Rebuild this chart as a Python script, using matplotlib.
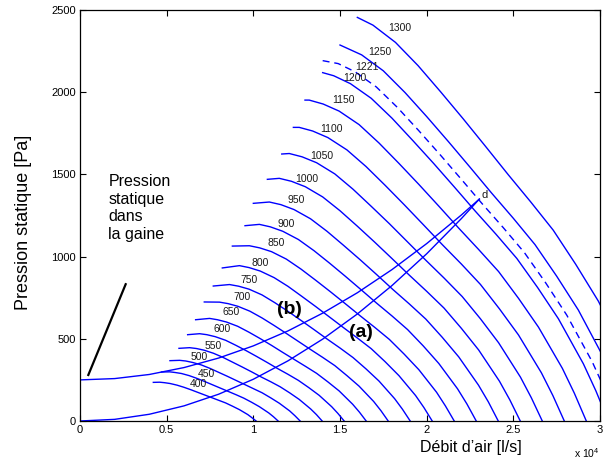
import matplotlib
matplotlib.use('Agg')
import matplotlib.pyplot as plt
from matplotlib.ticker import FuncFormatter, MultipleLocator

# fan speeds [rpm], one characteristic curve each (1221 is the dashed one)
speeds = [400, 450, 500, 550, 600, 650, 700, 750, 800, 850, 900, 950,
          1000, 1050, 1100, 1150, 1200, 1221, 1250, 1300]

# debit [l/s]
curve_flow = [
    [4230, 4600, 4880, 5200, 5600, 6000, 6400, 6800, 7200, 7600, 8000, 8400, 8800, 9200, 9680, 9920, 10160],
    [4700, 5175, 5490, 5850, 6300, 6750, 7200, 7650, 8100, 8550, 9000, 9450, 9900, 10350, 10890, 11160, 11430],
    [5190, 5750, 6100, 6500, 7000, 7500, 8000, 8500, 9000, 9500, 10000, 10500, 11000, 11500, 12100, 12400, 12700],
    [5710, 6325, 6710, 7150, 7700, 8250, 8800, 9350, 9900, 10450, 11000, 11550, 12100, 12650, 13310, 13640, 13970],
    [6210, 6900, 7320, 7800, 8400, 9000, 9600, 10200, 10800, 11400, 12000, 12600, 13200, 13800, 14520, 14880, 15240],
    [6670, 7475, 7930, 8450, 9100, 9750, 10400, 11050, 11700, 12350, 13000, 13650, 14300, 14950, 15730, 16120, 16510],
    [7170, 8050, 8540, 9100, 9800, 10500, 11200, 11900, 12600, 13300, 14000, 14700, 15400, 16100, 16940, 17360, 17780],
    [7690, 8625, 9150, 9750, 10500, 11250, 12000, 12750, 13500, 14250, 15000, 15750, 16500, 17250, 18150, 18600, 19050],
    [8210, 9200, 9760, 10400, 11200, 12000, 12800, 13600, 14400, 15200, 16000, 16800, 17600, 18400, 19360, 19840, 20320],
    [8790, 9775, 10370, 11050, 11900, 12750, 13600, 14450, 15300, 16150, 17000, 17850, 18700, 19550, 20570, 21080, 21590],
    [9520, 10350, 10980, 11700, 12600, 13500, 14400, 15300, 16200, 17100, 18000, 18900, 19800, 20700, 21780, 22320, 22860],
    [10000, 10925, 11590, 12350, 13300, 14250, 15200, 16150, 17100, 18050, 19000, 19950, 20900, 21850, 22990, 23560, 24130],
    [10810, 11500, 12200, 13000, 14000, 15000, 16000, 17000, 18000, 19000, 20000, 21000, 22000, 23000, 24200, 24800, 25400],
    [11640, 12075, 12810, 13650, 14700, 15750, 16800, 17850, 18900, 19950, 21000, 22050, 23100, 24150, 25410, 26040, 26670],
    [12310, 12650, 13420, 14300, 15400, 16500, 17600, 18700, 19800, 20900, 22000, 23100, 24200, 25300, 26620, 27280, 27940],
    [12980, 13225, 14030, 14950, 16100, 17250, 18400, 19550, 20700, 21850, 23000, 24150, 25300, 26450, 27830, 28520, 29210],
    [14000, 14640, 15600, 16800, 18000, 19200, 20400, 21600, 22800, 24000, 25200, 26400, 27600, 29040, 29760, 30480],
    [14000, 14896, 15873, 17094, 18315, 19536, 20757, 21978, 23199, 24420, 25641, 26862, 28083, 29548, 30281, 31013],
    [15000, 16250, 17500, 18750, 20000, 21250, 22500, 23750, 25000, 26250, 27500, 28750, 30250, 31000, 31750],
    [16000, 16900, 18200, 19500, 20800, 22100, 23400, 24700, 26000, 27300, 28600, 29900, 31460, 32240, 33020],
]
# pression statique [Pa] at those points
curve_pres = [
    [235, 236, 233, 228, 218, 205, 190, 174, 158, 142, 126, 110, 90, 69, 39, 20, 0],
    [298, 299, 295, 289, 276, 259, 240, 220, 200, 180, 160, 139, 114, 87, 49, 26, 0],
    [367, 369, 365, 356, 341, 320, 296, 272, 247, 222, 197, 172, 141, 108, 61, 32, 0],
    [442, 446, 441, 431, 412, 387, 358, 329, 299, 268, 239, 208, 171, 131, 73, 39, 0],
    [525, 531, 525, 513, 491, 460, 427, 392, 356, 319, 284, 247, 203, 156, 87, 46, 0],
    [616, 624, 616, 602, 576, 540, 501, 460, 417, 375, 333, 290, 238, 183, 102, 54, 0],
    [724, 723, 714, 698, 668, 627, 581, 533, 484, 435, 387, 337, 276, 212, 119, 63, 0],
    [821, 830, 820, 802, 767, 719, 667, 612, 556, 499, 444, 386, 317, 243, 136, 72, 0],
    [931, 945, 933, 912, 872, 819, 758, 696, 632, 568, 505, 440, 361, 276, 155, 82, 0],
    [1064, 1066, 1053, 1030, 985, 924, 856, 786, 714, 641, 570, 496, 407, 312, 175, 92, 0],
    [1188, 1196, 1181, 1154, 1104, 1036, 960, 881, 800, 718, 639, 556, 457, 350, 196, 104, 0],
    [1324, 1332, 1316, 1286, 1230, 1154, 1069, 982, 892, 800, 712, 620, 509, 390, 218, 116, 0],
    [1470, 1476, 1458, 1425, 1363, 1279, 1185, 1088, 988, 887, 789, 687, 564, 432, 242, 128, 0],
    [1624, 1627, 1607, 1571, 1503, 1410, 1306, 1200, 1089, 978, 870, 757, 622, 476, 267, 141, 0],
    [1786, 1786, 1764, 1724, 1649, 1548, 1434, 1316, 1195, 1073, 955, 831, 682, 523, 293, 155, 0],
    [1952, 1952, 1928, 1885, 1803, 1691, 1567, 1439, 1307, 1173, 1043, 909, 746, 571, 320, 169, 0],
    [2119, 2100, 2052, 1963, 1842, 1706, 1567, 1423, 1277, 1136, 989, 812, 622, 348, 184, 0],
    [2192, 2174, 2124, 2032, 1907, 1767, 1622, 1473, 1322, 1176, 1024, 841, 644, 361, 191, 0],
    [2287, 2227, 2130, 1998, 1852, 1700, 1544, 1386, 1233, 1073, 881, 675, 378, 200, 0],
    [2455, 2408, 2303, 2162, 2003, 1839, 1670, 1499, 1333, 1161, 953, 730, 409, 216, 0],
]

# where the speed labels sit
label_x = [6825, 7269, 6865, 7656, 8192, 8694, 9363, 9767, 10385, 11308,
           11885, 12500, 13080, 13945, 14522, 15190, 15865, 16540, 17308, 18462]
label_y = [225, 286, 389, 456, 558, 665, 756, 858, 959, 1081,
           1198, 1344, 1472, 1614, 1776, 1953, 2084, 2151, 2243, 2389]

# duct curves (a) and (b), both ending at point d
sys_flow = [0, 2000, 4000, 6000, 8000, 10000, 12000, 14000, 16000, 18000, 20000, 22000, 23040]
sys_a_pres = [0, 10, 41, 92, 163, 254, 366, 498, 651, 824, 1017, 1231, 1350]
sys_b_pres = [250, 258, 283, 325, 383, 457, 548, 656, 780, 921, 1079, 1253, 1350]

# pointer from the text to the duct pressure
pointer_x = [480, 2635]
pointer_y = [280, 832]

blue = '#0000ff'
plt.rcParams['font.family'] = ['Liberation Sans', 'DejaVu Sans']
plt.rcParams['mathtext.fontset'] = 'custom'
plt.rcParams['mathtext.rm'] = 'Liberation Sans'

fig = plt.figure(figsize=(6.13, 4.61), dpi=100)
ax = fig.add_axes([80 / 613, 40 / 461, 520 / 613, 411 / 461])

for i, n in enumerate(speeds):
    ls = (0, (5, 3.5)) if n == 1221 else '-'
    ax.plot(curve_flow[i], curve_pres[i], color=blue, lw=1.0, linestyle=ls)
    ax.text(label_x[i], label_y[i], str(n), fontsize=7.5, ha='center', va='center', color='#1a1a1a')

ax.plot(sys_flow, sys_a_pres, color=blue, lw=1.0)
ax.plot(sys_flow, sys_b_pres, color=blue, lw=1.0)
ax.text(sys_flow[-1] + 110, sys_a_pres[-1] - 5, 'd', fontsize=8, ha='left', va='bottom', color='#1a1a1a')

ax.plot(pointer_x, pointer_y, color='black', lw=1.6)
ax.text(1635, 1500, 'Pression\nstatique\ndans\nla gaine', fontsize=11.5, ha='left', va='top', linespacing=1.2)
ax.text(12077, 679, '(b)', fontsize=14, fontweight='bold', ha='center', va='center')
ax.text(16212, 537, '(a)', fontsize=14, fontweight='bold', ha='center', va='center')

ax.set_xlim(0, 30000)
ax.set_ylim(0, 2500)
ax.xaxis.set_major_locator(MultipleLocator(5000))
ax.yaxis.set_major_locator(MultipleLocator(500))
ax.xaxis.set_major_formatter(FuncFormatter(lambda v, pos: f'{v / 1e4:g}'))
ax.tick_params(direction='in', length=4, width=0.8, top=True, right=True, labelsize=8, pad=3)
for sp in ax.spines.values():
    sp.set_linewidth(0.9)

ax.set_xlabel("Débit d’air [l/s]", fontsize=11.5)
ax.xaxis.set_label_coords(391 / 520, -0.047)
ax.set_ylabel('Pression statique [Pa]', fontsize=13)
ax.yaxis.set_label_coords(-0.093, 0.484)
ax.text(1.0, -0.062, r'x 10$^{4}$', transform=ax.transAxes, fontsize=7.5, ha='right', va='top')

fig.savefig('out.png', dpi=100)
